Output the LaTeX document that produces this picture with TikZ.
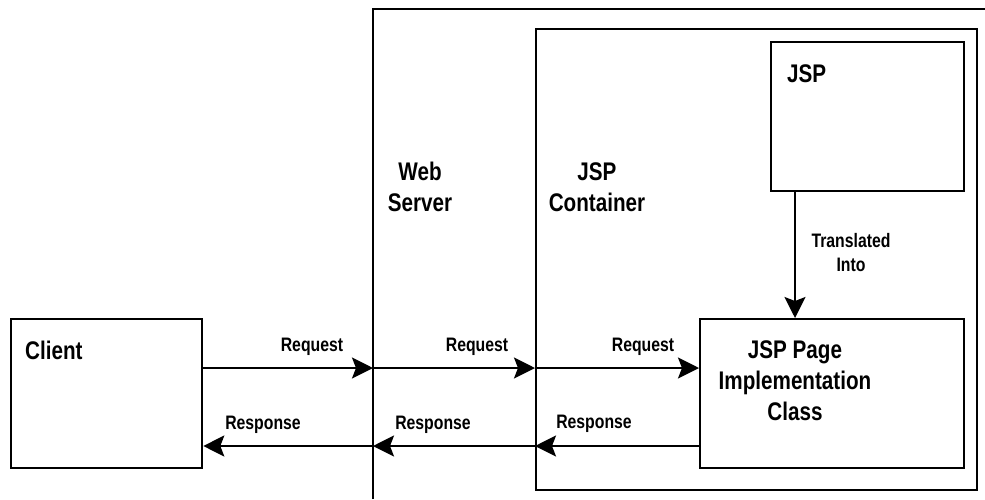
\documentclass[tikz,border=0pt]{standalone}
\usepackage{fontspec}
\setmainfont[FakeStretch=0.81]{Liberation Sans}
\usetikzlibrary{arrows.meta, positioning}

\tikzset{
  box/.style={draw, line width=2.3pt, rectangle, anchor=north west, inner sep=0pt},
  arr/.style={line width=2.3pt, -{Stealth[length=21pt, width=21pt, inset=4pt]}},
  bigtxt/.style={font=\fontsize{25.5}{31}\selectfont\bfseries, align=center, inner sep=0pt},
  smalltxt/.style={font=\fontsize{19.5}{24}\selectfont\bfseries, align=center, inner sep=0pt}
}

\begin{document}
\begin{tikzpicture}[x=1pt, y=-1pt]
  \useasboundingbox (0,0) rectangle (985,499);

  % Web server (cut off by the page edges)
  \coordinate (ws) at (373,9);
  \coordinate (ws end) at (985,9);
  \coordinate (ws bottom) at (373,499);
  \draw[line width=2.3pt] (ws bottom) -- (ws) -- (ws end);

  % Boxes
  \node[box, minimum width=441pt, minimum height=461pt] (ctr) at (535,28) {};
  \node[box, minimum width=191pt, minimum height=149pt] (client) at (10,318) {};
  \node[box, minimum width=193pt, minimum height=149pt] (jsp) at (770,41) {};
  \node[box, minimum width=264pt, minimum height=149pt] (impl) at (699,318) {};

  % Box texts (base = last line)
  \node[bigtxt, anchor=base west] (client txt) at (25,359) {Client};
  \node[bigtxt, anchor=base west] (jsp txt) at (787,82) {JSP};
  \node[bigtxt, anchor=base] (ws txt) at (420,211) {Web\\Server};
  \node[bigtxt, anchor=base] (ctr txt) at (597,211) {JSP\\Container};
  \node[bigtxt, anchor=base] (impl txt) at (795,420) {JSP Page\\Implementation\\Class};

  % Lines for the arrows
  \coordinate (reqline) at (0,368);
  \coordinate (resline) at (0,446);
  \coordinate (transx) at (795,0);

  % Requests
  \draw[arr] (client.east |- reqline) -- (ws |- reqline);
  \draw[arr] (ws |- reqline) -- (ctr.west |- reqline);
  \draw[arr] (ctr.west |- reqline) -- (impl.west |- reqline);
  \node[smalltxt, anchor=base] (req1) at (312,351) {Request};
  \node[smalltxt, anchor=base] (req2) at (477,351) {Request};
  \node[smalltxt, anchor=base] (req3) at (643,351) {Request};

  % Responses
  \draw[arr] (impl.west |- resline) -- (ctr.west |- resline);
  \draw[arr] (ctr.west |- resline) -- (ws |- resline);
  \draw[arr] (ws |- resline) -- (client.east |- resline);
  \node[smalltxt, anchor=base] (res1) at (263,429) {Response};
  \node[smalltxt, anchor=base] (res2) at (433,429) {Response};
  \node[smalltxt, anchor=base] (res3) at (594,428) {Response};

  % Translation
  \draw[arr] (jsp.south -| transx) -- (impl.north -| transx);
  \node[smalltxt, anchor=base] (trans) at (851,271) {Translated\\Into};
\end{tikzpicture}
\end{document}
